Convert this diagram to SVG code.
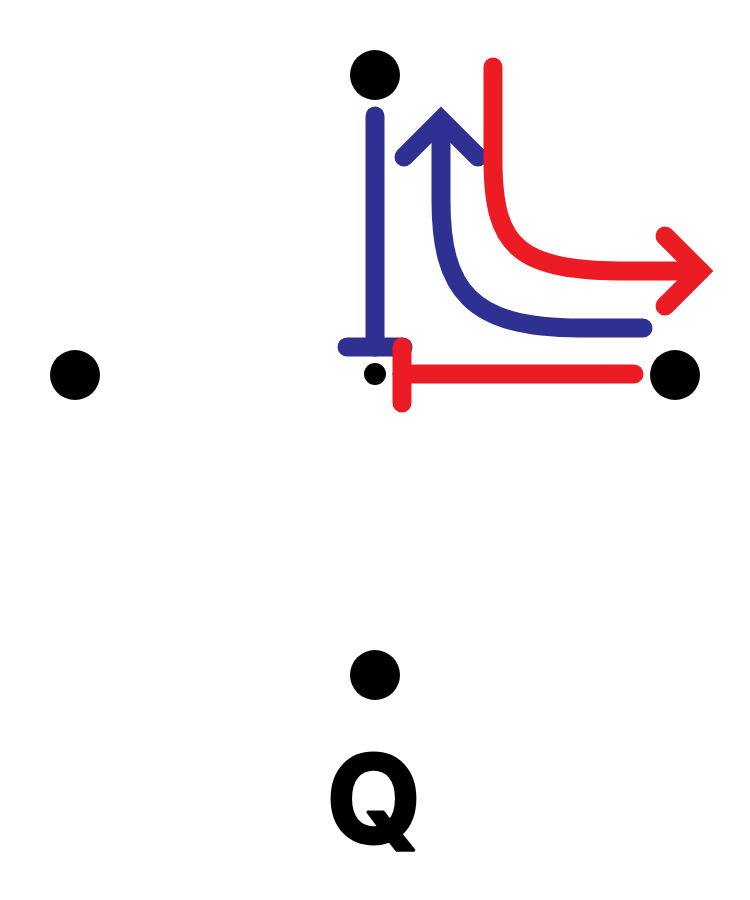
<svg xmlns="http://www.w3.org/2000/svg" width="750" height="900" viewBox="0 0 750 900">
<style>
.dot{fill:#000}
.blue{stroke:#2e3192;fill:none;stroke-width:19}
.red{stroke:#ed1c24;fill:none;stroke-width:19}
.lbl{font-family:Inter,"Liberation Sans",Arial,sans-serif;font-weight:700;font-size:122px;fill:#000;stroke:#000;stroke-width:3;stroke-linejoin:round}
</style>
<rect width="750" height="900" fill="#fff"/>
<g id="node-top"><circle class="dot" cx="375" cy="75" r="25"/></g>
<g id="node-left"><circle class="dot" cx="75" cy="375" r="25"/></g>
<g id="node-center"><circle class="dot" cx="375" cy="374" r="11"/></g>
<g id="node-right"><circle class="dot" cx="675" cy="375" r="25"/></g>
<g id="node-bottom"><circle class="dot" cx="375" cy="675" r="25"/></g>
<g id="connectors">
  <path class="blue" d="M375,116 L375,347" stroke-linecap="round"/>
  <path class="blue" d="M347,347 L403,347" stroke-linecap="round"/>
  <path class="blue" d="M441,125 L441,200 C441,290 470,328 580,328 L643,328" stroke-linecap="round"/>
  <polyline class="blue" points="404,157 441,120 478,157" stroke-linejoin="miter" stroke-linecap="round"/>
  <path class="red" d="M493,67 L493,160 C493,250 520,271 630,271 L700,271" stroke-linecap="round"/>
  <polyline class="red" points="665,236 700,271 665,306" stroke-linejoin="miter" stroke-linecap="round"/>
  <path class="red" d="M402,374 L634,374" stroke-linecap="round"/>
  <path class="red" d="M402,347 L402,403" stroke-linecap="round"/>
</g>
<g id="label-Q"><text class="lbl" x="374" y="843" text-anchor="middle">Q</text></g>
</svg>
